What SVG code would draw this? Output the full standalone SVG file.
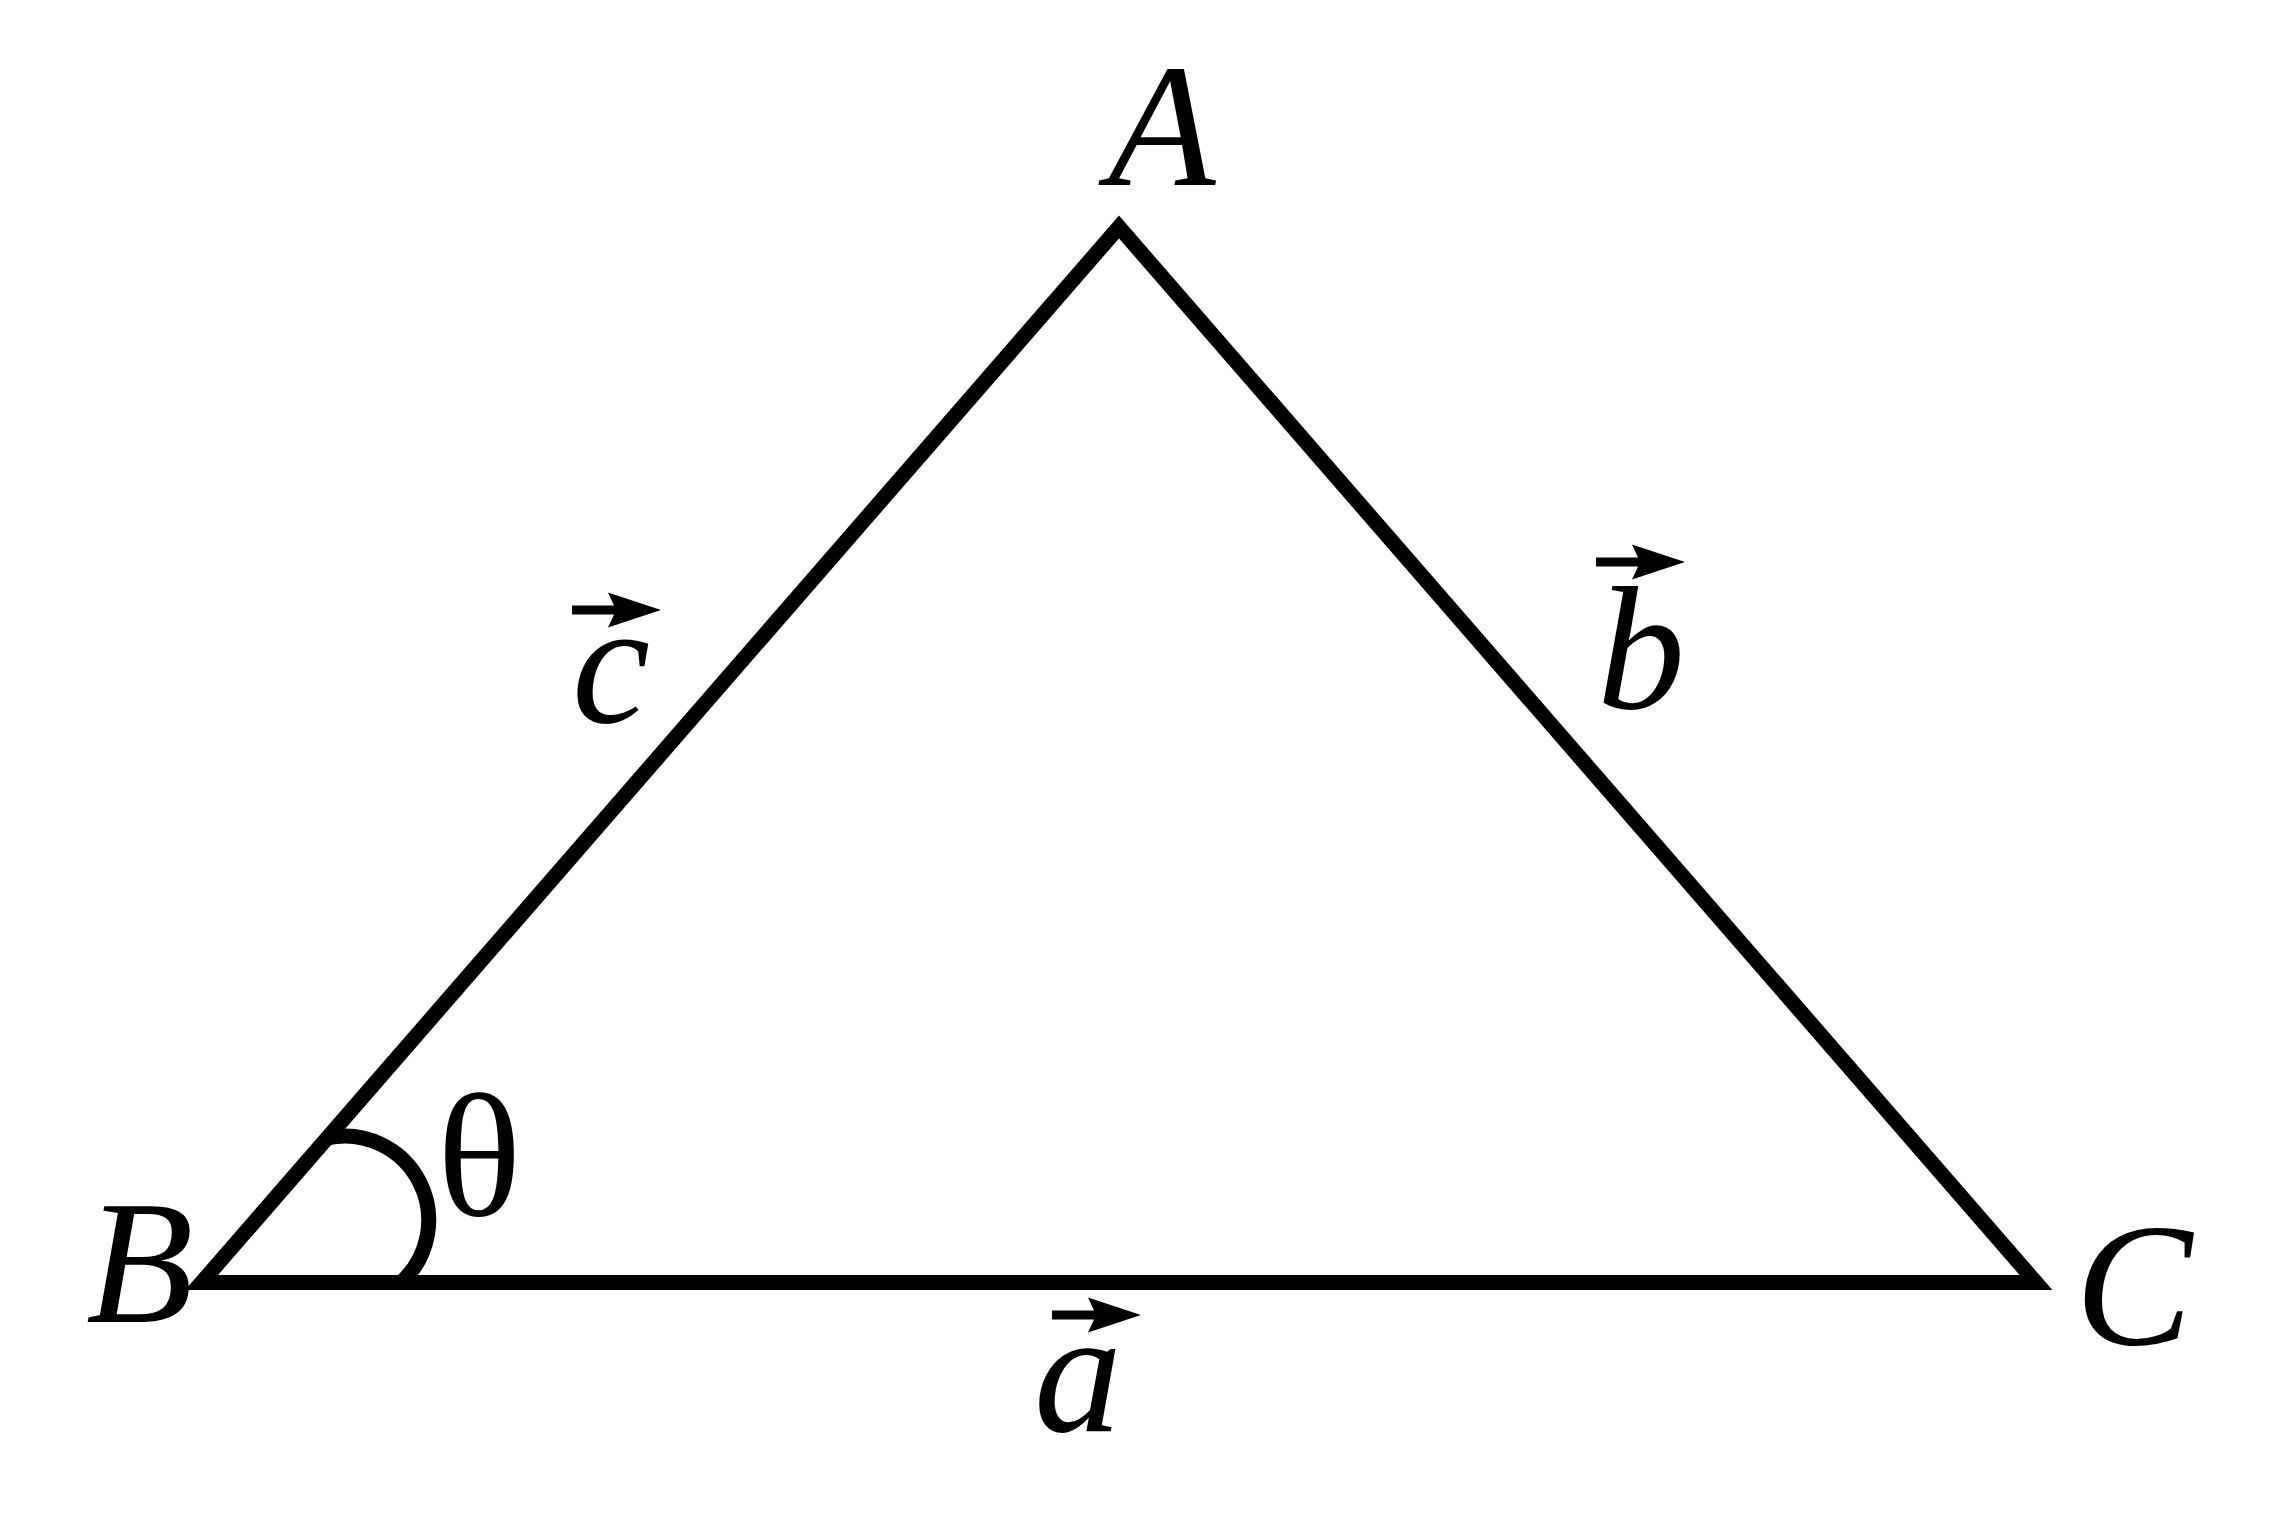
<svg xmlns="http://www.w3.org/2000/svg" width="2276" height="1520" viewBox="0 0 2276 1520">
<style>
.edge{fill:none;stroke:#000;stroke-width:15;stroke-linejoin:miter;stroke-miterlimit:10}
.lbl{font-family:'Liberation Serif','Times New Roman',serif;font-style:italic;font-size:176px;fill:#000}
.greek{font-family:'Liberation Serif','Times New Roman',serif;font-size:176px;fill:#000}
.vec{fill:#000;stroke:none}
</style>
<defs>
<path id="vecArrow" d="M0,-4.5 L42,-4.5 L36,-17.5 L89,0 L36,17.5 L42,4.5 L0,4.5 Z"/>
</defs>
<rect width="2276" height="1520" fill="#fff"/>
<g id="connectors">
<path id="triangle" class="edge" d="M201.6,1282.5 L1119,227 L2036,1282.5 Z"/>
<path id="angle-arc" class="edge" d="M327.2,1138 A84,84 0 0 1 401,1282.5"/>
</g>
<g id="vertex-A"><text class="lbl" x="1108" y="185">A</text></g>
<g id="vertex-B"><text class="lbl" x="86" y="1322">B</text></g>
<g id="vertex-C"><text class="lbl" x="2075" y="1344">C</text></g>
<g id="angle-theta"><text class="greek" x="437" y="1215">θ</text></g>
<g id="vec-a">
<use href="#vecArrow" class="vec" x="1052" y="1315"/>
<text class="lbl" x="1034" y="1431">a</text>
</g>
<g id="vec-b">
<use href="#vecArrow" class="vec" x="1596" y="562"/>
<text class="lbl" x="1597" y="708">b</text>
</g>
<g id="vec-c">
<use href="#vecArrow" class="vec" x="572" y="610"/>
<text class="lbl" x="572" y="722">c</text>
</g>
</svg>
